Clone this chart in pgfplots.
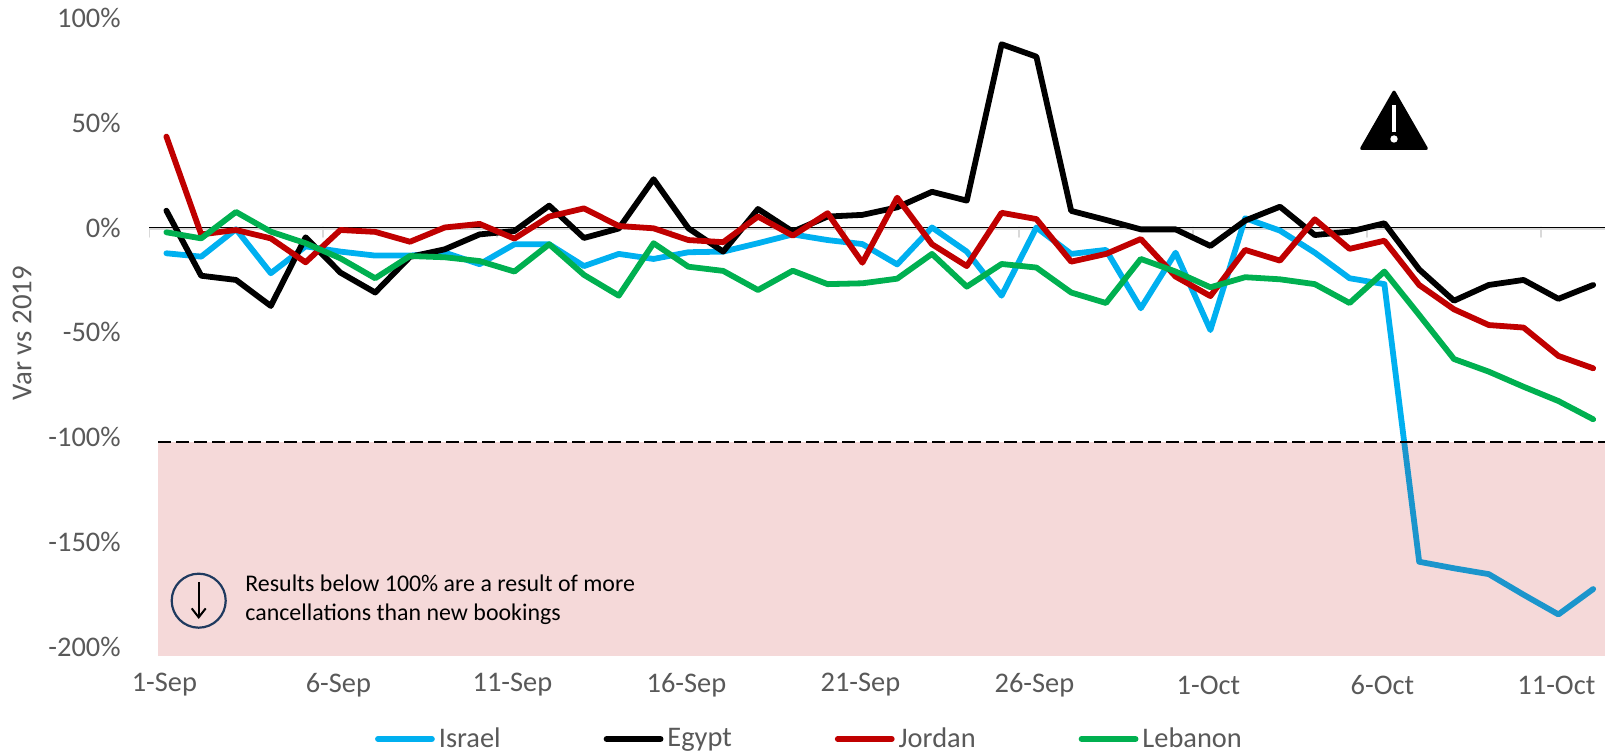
\documentclass[border=0pt]{standalone}
\usepackage{pgfplots}
\usepackage{fontspec}
\usetikzlibrary{arrows.meta}
\setmainfont{Carlito}
\pgfplotsset{compat=1.18}
\definecolor{txt}{HTML}{595959}
\definecolor{isr}{HTML}{00B0F0}
\definecolor{jor}{HTML}{C00000}
\definecolor{leb}{HTML}{00B050}
\definecolor{navy}{HTML}{1F3A5F}
\definecolor{pinkov}{RGB}{185,0,0}
\definecolor{tickgray}{HTML}{D9D9D9}
\begin{document}
\begin{tikzpicture}[x=0.5pt,y=0.5pt]
\useasboundingbox (0,0) rectangle (1605,753);
\begin{axis}[
  at={(74.5pt,48.5pt)}, anchor=south west,
  scale only axis, width=728pt, height=328pt,
  xmin=-0.5, xmax=41.34, ymin=-204.2, ymax=108.4,
  axis line style={draw=none}, major tick length=0pt,
  unbounded coords=jump,
  xtick={0,5,10,15,20,25,30,35,40},
  xticklabels={1-Sep,6-Sep,11-Sep,16-Sep,21-Sep,26-Sep,1-Oct,6-Oct,11-Oct},
  ytick={-200,-150,-100,-50,0,50,100},
  yticklabels={-200\%,-150\%,-100\%,-50\%,0\%,50\%,100\%},
  xticklabel style={font=\fontsize{14.2}{16}\selectfont, text=txt, anchor=center, yshift=-14.5pt, xshift=-1pt, inner sep=0pt},
  yticklabel style={font=\fontsize{14.2}{16}\selectfont, text=txt, anchor=east, inner sep=0pt, xshift=-14pt},
  ylabel={Var vs 2019},
  every axis y label/.style={at={(rel axis cs:-0.0872,0.492)}, rotate=90, anchor=center, font=\fontsize{14.4}{16}\selectfont, text=txt},
  legend columns=-1,
  legend cell align=left,
  legend style={at={(axis description cs:0.4543,-0.1265)}, anchor=center, draw=none, fill=none,
    font=\fontsize{14.2}{16}\selectfont, text=txt, inner sep=0pt,
    /tikz/every even column/.append style={column sep=49.5pt}},
  legend image code/.code={\draw[#1,line cap=round] (0pt,0pt) -- (27pt,0pt);},
  every axis plot/.append style={no markers, line join=round, line cap=round},
]
% gray ticks and zero line
\addplot[forget plot, tickgray, line width=1pt] coordinates {(-0.5,-4.5)(-0.5,-0.5)(41.34,-0.5)};
\addplot[forget plot, tickgray, line width=1pt] coordinates {(4.5,0)(4.5,-4.5)(nan,nan)(9.5,0)(9.5,-4.5)(nan,nan)(14.5,0)(14.5,-4.5)(nan,nan)(19.5,0)(19.5,-4.5)(nan,nan)(24.5,0)(24.5,-4.5)(nan,nan)(29.5,0)(29.5,-4.5)(nan,nan)(34.5,0)(34.5,-4.5)(nan,nan)(39.5,0)(39.5,-4.5)};
\addplot[forget plot, black, line width=0.65pt, line cap=butt] coordinates {(-0.5,0)(41.34,0)};
% Israel
\addplot[isr, line width=2.9pt] coordinates {
(0,-12.3)(1,-13.9)(2,-0.8)(3,-21.8)(4,-9)(5,-11.5)(6,-13.4)(7,-13.4)(8,-12)(9,-17.5)(10,-8)
(11,-8)(12,-18.4)(13,-12.6)(14,-15)(15,-11.8)(16,-11.5)(17,-7.5)(18,-3.3)(19,-6)(20,-7.9)
(21,-17.6)(22,0)(23,-11.5)(24,-32.5)(25,0)(26,-12.6)(27,-10.7)(28,-38.5)(29,-12)(30,-48.9)
(31,4.4)(32,-1.5)(33,-12)(34,-24.2)(35,-27)(36,-159.3)(37,-162.4)(38,-165.2)(39,-175)(40,-184.4)(41,-172.3)};
\addlegendentry{Israel}
% Egypt
\addplot[black, line width=2.9pt] coordinates {
(0,8)(1,-23)(2,-25)(3,-37.4)(4,-4.7)(5,-21.5)(6,-31)(7,-14)(8,-10.4)(9,-3.3)(10,-1.7)
(11,10.4)(12,-5)(13,-0.5)(14,23)(15,-0.4)(16,-11.5)(17,8.8)(18,-2)(19,5.2)(20,6)
(21,9.6)(22,17)(23,12.8)(24,87.3)(25,81.4)(26,7.9)(27,3.6)(28,-0.9)(29,-0.9)(30,-8.8)
(31,3.3)(32,9.9)(33,-3.6)(34,-2)(35,2)(36,-20)(37,-34.9)(38,-27.4)(39,-25)(40,-34)(41,-27.4)};
\addlegendentry{Egypt}
% Jordan
\addplot[jor, line width=2.9pt] coordinates {
(0,43.3)(1,-3.3)(2,-1.2)(3,-5.2)(4,-16.6)(5,-1.2)(6,-2.1)(7,-6.8)(8,0)(9,1.7)(10,-5.3)
(11,5.2)(12,9.1)(13,0.7)(14,-0.4)(15,-6)(16,-7)(17,5.2)(18,-3.9)(19,6.8)(20,-16.8)
(21,14.2)(22,-8)(23,-18.4)(24,7)(25,4)(26,-16.3)(27,-12.6)(28,-5.5)(29,-23.4)(30,-32.7)
(31,-10.7)(32,-15.8)(33,3.9)(34,-10.2)(35,-6.3)(36,-27.4)(37,-39)(38,-46.5)(39,-47.7)(40,-61.2)(41,-67.1)};
\addlegendentry{Jordan}
% Lebanon
\addplot[leb, line width=2.9pt] coordinates {
(0,-2.3)(1,-5.2)(2,7.4)(3,-2)(4,-7.5)(5,-14.7)(6,-24.2)(7,-13.6)(8,-14.2)(9,-16)(10,-21)
(11,-8)(12,-22.6)(13,-32.5)(14,-7.5)(15,-18.7)(16,-20.7)(17,-29.8)(18,-20.6)(19,-27)(20,-26.6)
(21,-24.4)(22,-12.6)(23,-28.2)(24,-17.4)(25,-19.1)(26,-31)(27,-36)(28,-15)(29,-21)(30,-28.5)
(31,-23.7)(32,-24.7)(33,-27)(34,-36)(35,-21)(36,-41.7)(37,-62.7)(38,-68.7)(39,-75.9)(40,-82.7)(41,-91.4)};
\addlegendentry{Lebanon}
% overlay band and threshold
\addplot[forget plot, draw=none, fill=pinkov, fill opacity=0.15] coordinates {(-0.24,-102.2)(41.34,-102.2)(41.34,-204.2)(-0.24,-204.2)} -- cycle;
\addplot[forget plot, black, line width=0.6pt, dash pattern=on 6.5pt off 2.5pt, line cap=butt] coordinates {(-0.24,-102.2)(41.34,-102.2)};
\end{axis}
% warning sign
\fill[black, rounded corners=1.5pt] (1394,664) -- (1429,603) -- (1359,603) -- cycle;
\fill[white] (1392,621) rectangle (1396,648);
\fill[white] (1394,614) circle (3.7);
% annotation
\draw[navy, line width=1.1pt] (198.7,152.3) circle (27);
\draw[black, line width=1pt, -{Straight Barb[length=4.5pt,width=7pt]}] (198.7,171) -- (198.7,134);
\node[anchor=west, align=left, inner sep=0pt, text=black, font=\fontsize{11.95}{14.5}\selectfont] at (245,153.5) {Results below 100\% are a result of more\\cancellations than new bookings};
\end{tikzpicture}
\end{document}
